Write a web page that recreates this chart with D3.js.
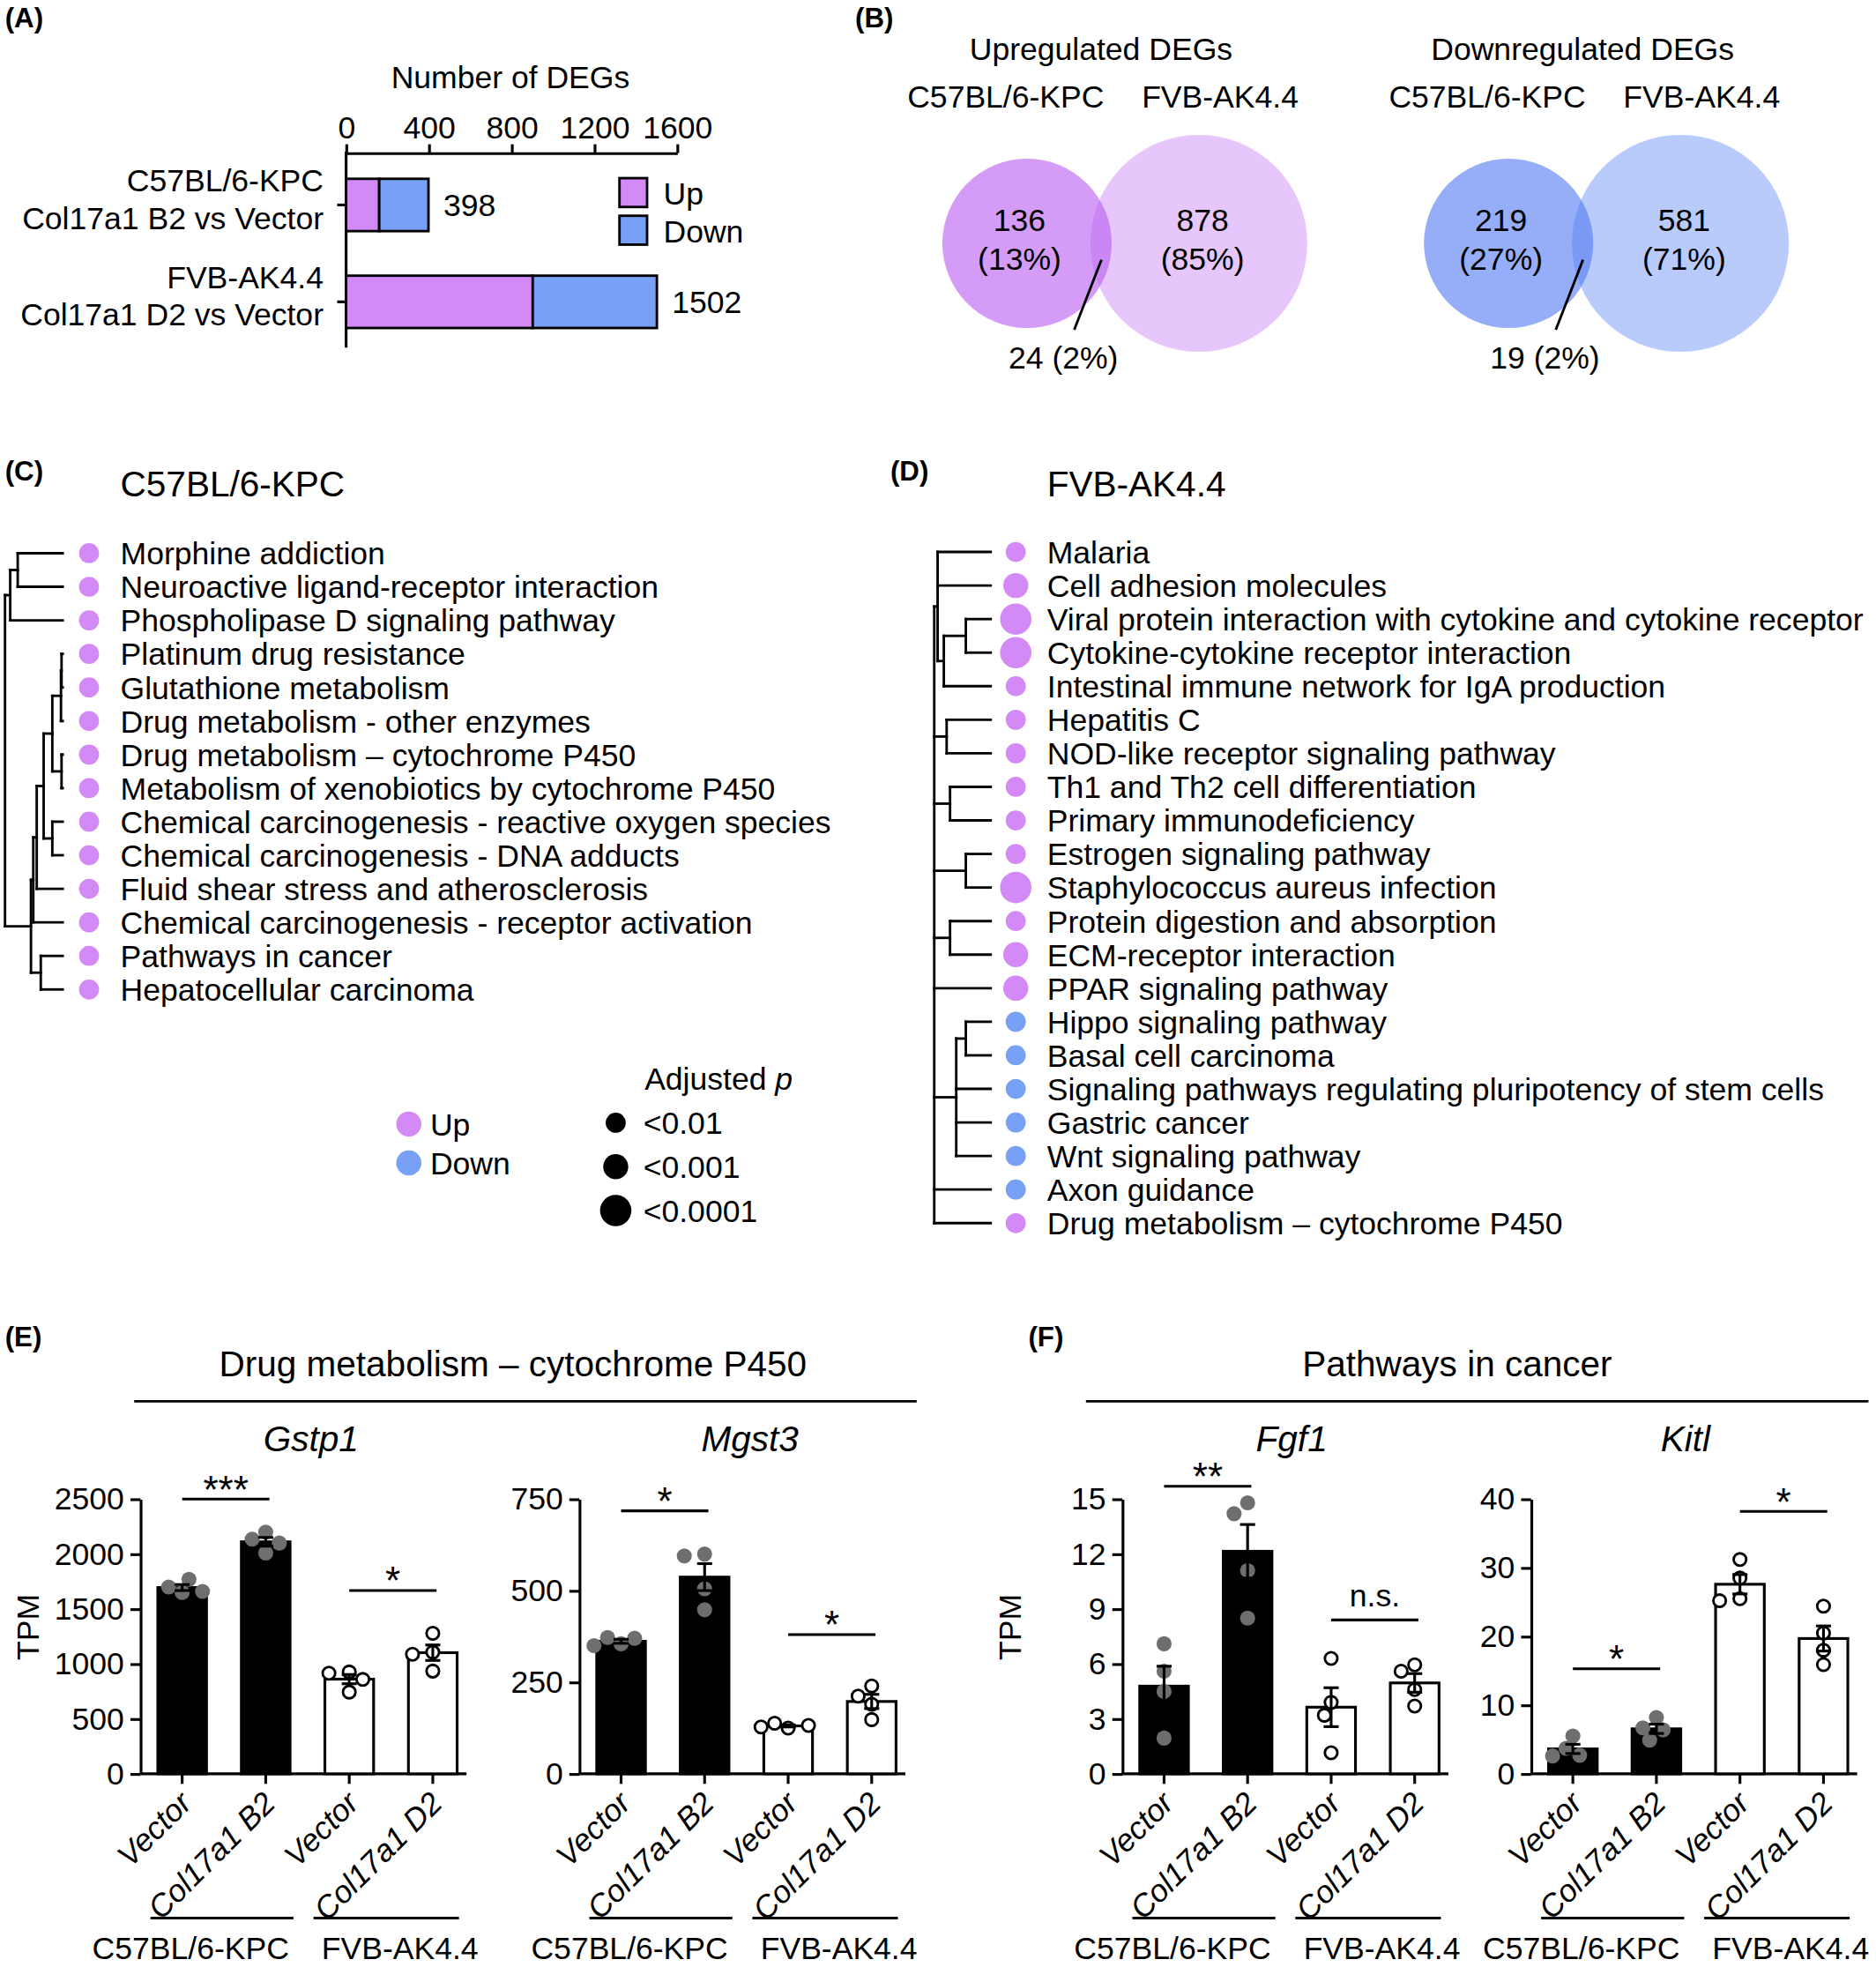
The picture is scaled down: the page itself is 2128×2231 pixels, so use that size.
<!DOCTYPE html>
<html><head><meta charset="utf-8">
<script src="https://cdn.jsdelivr.net/npm/d3@7"></script>
<style>
body{margin:0;background:#fff}
svg{display:block}
text{font-family:"Liberation Sans",Arial,Helvetica,sans-serif;fill:#000}
</style>
</head><body>
<svg id="c" width="2128" height="2231"></svg>
<script>
// ---------------- DATA ----------------
// (A) number of DEGs
const degGroups = [["C57BL/6-KPC","Col17a1 B2 vs Vector"],["FVB-AK4.4","Col17a1 D2 vs Vector"]];
const degUp = [160, 902];
const degDown = [238, 600];
const degTotal = [398, 1502];
const degTicks = [0, 400, 800, 1200, 1600];
const degLegend = ["Up", "Down"];

// (B) Venn diagrams
const vennTitles = ["Upregulated DEGs", "Downregulated DEGs"];
const vennSets = ["C57BL/6-KPC", "FVB-AK4.4"];
const vennUpCounts = [136, 24, 878];
const vennUpPct = ["13%", "2%", "85%"];
const vennDownCounts = [219, 19, 581];
const vennDownPct = ["27%", "2%", "71%"];

// (C) KEGG pathways C57BL/6-KPC
const pathC = ["Morphine addiction","Neuroactive ligand-receptor interaction","Phospholipase D signaling pathway","Platinum drug resistance","Glutathione metabolism","Drug metabolism - other enzymes","Drug metabolism \u2013 cytochrome P450","Metabolism of xenobiotics by cytochrome P450","Chemical carcinogenesis - reactive oxygen species","Chemical carcinogenesis - DNA adducts","Fluid shear stress and atherosclerosis","Chemical carcinogenesis - receptor activation","Pathways in cancer","Hepatocellular carcinoma"];
const dirC = ["Up","Up","Up","Up","Up","Up","Up","Up","Up","Up","Up","Up","Up","Up"];
const pLevelC = [1,1,1,1,1,1,1,1,1,1,1,1,1,1];
// dendrogram: [height, child, child, ...]; integers are leaf indices
const treeC = [1, [0.91, [0.78, 0, 1], 2],
  [0.55, [0.51, [0.45, [0.33, [0.18, [0.03, [0.02, 3, 4], 5], [0.02, 6, 7]], [0.18, 8, 9]], 10], 11], [0.38, 12, 13]]];

// (D) KEGG pathways FVB-AK4.4
const pathD = ["Malaria","Cell adhesion molecules","Viral protein interaction with cytokine and cytokine receptor","Cytokine-cytokine receptor interaction","Intestinal immune network for IgA production","Hepatitis C","NOD-like receptor signaling pathway","Th1 and Th2 cell differentiation","Primary immunodeficiency","Estrogen signaling pathway","Staphylococcus aureus infection","Protein digestion and absorption","ECM-receptor interaction","PPAR signaling pathway","Hippo signaling pathway","Basal cell carcinoma","Signaling pathways regulating pluripotency of stem cells","Gastric cancer","Wnt signaling pathway","Axon guidance","Drug metabolism \u2013 cytochrome P450"];
const dirD = ["Up","Up","Up","Up","Up","Up","Up","Up","Up","Up","Up","Up","Up","Up","Down","Down","Down","Down","Down","Down","Up"];
const pLevelD = [1,2,3,3,1,1,1,1,1,1,3,1,2,2,1,1,1,1,1,1,1];
const treeD = [1, [0.94, 0, 1, [0.83, [0.44, 2, 3], 4]], [0.78, 5, 6], [0.72, 7, 8], [0.44, 9, 10],
  [0.72, 11, 12], 13, [0.61, [0.44, 14, 15], 16, 17, 18], 19, 20];
const pLegend = ["<0.01", "<0.001", "<0.0001"];

// (E)(F) TPM bar charts
const tpmGroups = ["Vector", "Col17a1 B2", "Vector", "Col17a1 D2"];
const tpmLines = ["C57BL/6-KPC", "FVB-AK4.4"];
const gstp1 = [[1650,1700,1770,1660],[2200,2135,2100,2010],[927,916,859,744],[1279,1107,1088,935]];
const mgst3 = [[355,372,370,350],[600,595,505,448],[125,138,132,128],[240,212,190,148]];
const fgf1 = [[7.1,5.6,4.5,1.95],[14.8,14.2,11.1,8.5],[6.3,3.9,3.2,1.15],[5.95,5.6,4.6,3.7]];
const kitl = [[5.5,3.7,2.7,2.6],[8.2,6.7,6.4,4.9],[31.2,28.5,25.5,25.2],[24.4,20.5,18.0,15.9]];
const gstp1Ticks = [0,500,1000,1500,2000,2500];
const mgst3Ticks = [0,250,500,750];
const fgf1Ticks = [0,3,6,9,12,15];
const kitlTicks = [0,10,20,30,40];
const sigPairs = [[0,1],[2,3]];
const gstp1Sig = ["***","*"], gstp1SigAt = [2500, 1668];
const mgst3Sig = ["*","*"], mgst3SigAt = [718, 380];
const fgf1Sig = ["**","n.s."], fgf1SigAt = [15.7, 8.4];
const kitlSig = ["*","*"], kitlSigAt = [15.3, 38.2];

// ---------------- DRAWING ----------------
const W = 1496, H = 1568, FS = 25, FT = 28.5;
const UP = "#d38af7", DOWN = "#78a1f6";
const svg = d3.select("#c");
const root = svg.append("g").attr("transform", `scale(${2128/W},${2231/H})`);
const fmt = d3.format("d");

function txt(g, x, y, s, o = {}) {
  const t = g.append("text").attr("x", x).attr("y", y).attr("font-size", o.fs || FS).text(s);
  if (o.anchor) t.attr("text-anchor", o.anchor);
  if (o.weight) t.attr("font-weight", o.weight);
  if (o.italic) t.attr("font-style", "italic");
  if (o.dy) t.attr("dy", o.dy);
  return t;
}
function line(g, x1, y1, x2, y2, w = 2.2) {
  return g.append("line").attr("x1", x1).attr("y1", y1).attr("x2", x2).attr("y2", y2)
    .attr("stroke", "#000").attr("stroke-width", w).attr("stroke-linecap", "square");
}

// panel letters
[["(A)",4,22],["(B)",682,22],["(C)",4,383],["(D)",710,383],["(E)",4,1073],["(F)",820,1073]]
  .forEach(([s,x,y]) => txt(root, x, y, s, {fs: 22, weight: "bold"}));

// ---------- (A) ----------
(function(){
  const g = root.append("g");
  const x = d3.scaleLinear([0, 1600], [276, 540]);
  const y = d3.scaleBand().domain(d3.range(degUp.length)).range([124, 280]).paddingInner(0.46).paddingOuter(0.24);
  txt(g, 407, 70, "Number of DEGs", {anchor: "middle"});
  const ax = g.append("g").attr("transform", "translate(0,122)")
    .call(d3.axisTop(x).tickValues(degTicks).tickFormat(fmt).tickSize(7).tickSizeOuter(0).tickPadding(5));
  ax.selectAll("text").attr("font-size", FS).attr("font-family", null);
  ax.selectAll("line,path").attr("stroke", "#000").attr("stroke-width", 2.2);
  line(g, 276, 122, 276, 276);
  degUp.forEach((u, i) => {
    const cy = y(i) + y.bandwidth()/2;
    line(g, 270, cy, 276, cy);
    g.append("rect").attr("x", x(0)).attr("y", y(i)).attr("width", x(u) - x(0)).attr("height", y.bandwidth())
      .attr("fill", UP).attr("stroke", "#000").attr("stroke-width", 2);
    g.append("rect").attr("x", x(u)).attr("y", y(i)).attr("width", x(u + degDown[i]) - x(u)).attr("height", y.bandwidth())
      .attr("fill", DOWN).attr("stroke", "#000").attr("stroke-width", 2);
    txt(g, x(degTotal[i]) + 12, cy, degTotal[i], {dy: "0.36em"});
    txt(g, 258, cy - 11, degGroups[i][0], {anchor: "end"});
    txt(g, 258, cy + 19, degGroups[i][1], {anchor: "end"});
  });
  degLegend.forEach((s, i) => {
    g.append("rect").attr("x", 494).attr("y", 142 + i*30).attr("width", 22).attr("height", 23)
      .attr("fill", i ? DOWN : UP).attr("stroke", "#000").attr("stroke-width", 2);
    txt(g, 529, 154 + i*30, s, {dy: "0.36em"});
  });
})();

// ---------- (B) ----------
function venn(cxL, title, counts, pct, cRight, cLeft) {
  const g = root.append("g");
  const cy = 194;
  txt(g, cxL + 59, 48, title, {anchor: "middle"});
  txt(g, cxL - 17, 86, vennSets[0], {anchor: "middle"});
  txt(g, cxL + 154, 86, vennSets[1], {anchor: "middle"});
  g.append("circle").attr("cx", cxL + 137).attr("cy", cy).attr("r", 86.5).attr("fill", cRight);
  g.append("circle").attr("cx", cxL).attr("cy", cy).attr("r", 67.5).attr("fill", cLeft);
  txt(g, cxL - 6, 184, counts[0], {anchor: "middle"});
  txt(g, cxL - 6, 215, `(${pct[0]})`, {anchor: "middle"});
  txt(g, cxL + 140, 184, counts[2], {anchor: "middle"});
  txt(g, cxL + 140, 215, `(${pct[2]})`, {anchor: "middle"});
  line(g, cxL + 59, 208, cxL + 38, 262, 2);
  txt(g, cxL + 29, 294, `${counts[1]} (${pct[1]})`, {anchor: "middle"});
}
venn(819, vennTitles[0], vennUpCounts, vennUpPct, "#e7c7fb", "rgba(183,90,240,0.6)");
venn(1203, vennTitles[1], vennDownCounts, vennDownPct, "#b9cbfa", "rgba(80,120,242,0.6)");

// ---------- dendrogram helper ----------
function drawTree(g, tree, yOf, xOf) {
  function rec(node) {
    if (typeof node === "number") return {x: xOf(0), y: yOf(node)};
    const kids = node.slice(1).map(rec);
    const x = xOf(node[0]);
    const ys = kids.map(k => k.y);
    line(g, x, d3.min(ys), x, d3.max(ys), 2);
    kids.forEach(k => line(g, x, k.y, k.x, k.y, 2));
    return {x, y: (ys[0] + ys[ys.length - 1]) / 2};
  }
  rec(tree);
}
const rScale = d3.scaleOrdinal([1, 2, 3], [8, 10, 12.5]);
const colScale = d3.scaleOrdinal(["Up", "Down"], [UP, DOWN]);

function pathwayPanel(title, names, dirs, levels, tree, x0, yTop, xLeaf, xRoot, titleX) {
  const g = root.append("g");
  txt(g, titleX, 396, title, {fs: FT});
  const y = d3.scalePoint().domain(d3.range(names.length)).range([yTop, yTop + (names.length - 1) * 26.75]);
  drawTree(g, tree, y, d3.scaleLinear([0, 1], [xLeaf, xRoot]));
  names.forEach((n, i) => {
    g.append("circle").attr("cx", x0).attr("cy", y(i)).attr("r", rScale(levels[i])).attr("fill", colScale(dirs[i]));
    txt(g, x0 + 25, y(i), n, {dy: "0.36em"});
  });
}
pathwayPanel("C57BL/6-KPC", pathC, dirC, pLevelC, treeC, 71, 441, 50, 4, 96);
pathwayPanel("FVB-AK4.4", pathD, dirD, pLevelD, treeD, 810, 440, 790, 745, 835);

// legend
(function(){
  const g = root.append("g");
  ["Up", "Down"].forEach((s, i) => {
    g.append("circle").attr("cx", 326).attr("cy", 896 + i*31).attr("r", 10).attr("fill", colScale(s));
    txt(g, 343, 896 + i*31, s, {dy: "0.36em"});
  });
  const t = txt(g, 514, 869, "Adjusted ");
  t.append("tspan").attr("font-style", "italic").text("p");
  pLegend.forEach((s, i) => {
    g.append("circle").attr("cx", 491).attr("cy", 895 + i*35).attr("r", rScale(i + 1)).attr("fill", "#000");
    txt(g, 513, 895 + i*35, s, {dy: "0.36em"});
  });
})();

// ---------- (E)(F) ----------
function swarm(vals, y, cx, r) {
  const placed = [];
  return vals.map(v => {
    const py = y(v);
    let off = 0;
    for (let k = 0; k < 30; k++) {
      const c = k === 0 ? 0 : (k % 2 ? -1 : 1) * Math.ceil(k / 2) * r * 0.9;
      if (placed.every(p => Math.hypot(p.x - (cx + c), p.y - py) >= 2 * r * 0.92)) { off = c; break; }
    }
    const p = {x: cx + off, y: py};
    placed.push(p);
    return p;
  });
}

function barChart(x0, titleX, gene, data, ticks, sig, sigAt, showTPM) {
  const g = root.append("g");
  const yTop = 1195, yBot = 1414;
  const x = d3.scaleBand().domain(d3.range(data.length)).range([x0, x0 + 260])
    .paddingInner(0.417).paddingOuter(0.16).align(0.65);
  const y = d3.scaleLinear([0, d3.max(ticks)], [yBot, yTop]);
  txt(g, titleX, 1157, gene, {anchor: "middle", italic: true, fs: FT});
  if (showTPM) txt(g, 0, 0, "TPM", {anchor: "middle"})
    .attr("transform", `translate(${x0 - 81},1297) rotate(-90)`);
  const ya = g.append("g").attr("transform", `translate(${x0},0)`)
    .call(d3.axisLeft(y).tickValues(ticks).tickFormat(fmt).tickSize(8).tickSizeOuter(0).tickPadding(5));
  ya.selectAll("text").attr("font-size", FS).attr("font-family", null);
  ya.selectAll("line,path").attr("stroke", "#000").attr("stroke-width", 2.2);
  const xa = g.append("g").attr("transform", `translate(0,${yBot})`)
    .call(d3.axisBottom(x).tickSize(8).tickSizeOuter(0).tickFormat(""));
  xa.select(".domain").attr("d", `M${x0},0H${x0 + 260}`);
  xa.selectAll("line,path").attr("stroke", "#000").attr("stroke-width", 2.2);

  const bw = x.bandwidth(), r = 6;
  data.forEach((vals, i) => {
    const kpc = i < 2;
    const m = d3.mean(vals), se = d3.deviation(vals) / Math.sqrt(vals.length);
    const cx = x(i) + bw / 2;
    g.append("rect").attr("x", x(i)).attr("y", y(m)).attr("width", bw).attr("height", yBot - y(m))
      .attr("fill", kpc ? "#000" : "#fff").attr("stroke", "#000").attr("stroke-width", 2.2);
    swarm(vals, y, cx, r).forEach(p => {
      g.append("circle").attr("cx", p.x).attr("cy", p.y).attr("r", kpc ? r : r - 1)
        .attr("fill", kpc ? "#6e6e6e" : "#fff").attr("stroke", kpc ? "none" : "#000").attr("stroke-width", 2);
    });
    line(g, cx, y(m - se), cx, y(m + se), 2.2).attr("stroke-linecap", "butt");
    line(g, cx - 6, y(m + se), cx + 6, y(m + se), 2.2).attr("stroke-linecap", "butt");
    line(g, cx - 6, y(m - se), cx + 6, y(m - se), 2.2).attr("stroke-linecap", "butt");
    txt(g, 0, 0, tpmGroups[i], {anchor: "end", italic: true})
      .attr("transform", `translate(${cx + 9},${yBot + 25}) rotate(-45)`);
  });
  sigPairs.forEach(([a, b], k) => {
    const ly = y(sigAt[k]);
    const xa1 = x(a) + bw / 2, xb1 = x(b) + bw / 2 + 3;
    line(g, xa1, ly, xb1, ly, 2.2).attr("stroke-linecap", "butt");
    const ns = sig[k] === "n.s.";
    txt(g, (xa1 + xb1) / 2, ly + (ns ? -11 : 3), sig[k], {anchor: "middle", fs: ns ? FS : 31});
  });
  // strain group lines
  line(g, x0 + 8, 1529, x0 + 122, 1529, 2).attr("stroke-linecap", "butt");
  line(g, x0 + 138, 1529, x0 + 254, 1529, 2).attr("stroke-linecap", "butt");
  txt(g, x0 + 40, 1562, tpmLines[0], {anchor: "middle"});
  txt(g, x0 + 207, 1562, tpmLines[1], {anchor: "middle"});
}

// section titles
txt(root, 409, 1097, "Drug metabolism \u2013 cytochrome P450", {anchor: "middle", fs: FT});
line(root, 107, 1117, 731, 1117, 2).attr("stroke-linecap", "butt");
txt(root, 1162, 1097, "Pathways in cancer", {anchor: "middle", fs: FT});
line(root, 866, 1117, 1490, 1117, 2).attr("stroke-linecap", "butt");

barChart(112, 248, "Gstp1", gstp1, gstp1Ticks, gstp1Sig, gstp1SigAt, true);
barChart(462, 598, "Mgst3", mgst3, mgst3Ticks, mgst3Sig, mgst3SigAt, false);
barChart(895, 1030, "Fgf1", fgf1, fgf1Ticks, fgf1Sig, fgf1SigAt, true);
barChart(1221, 1344, "Kitl", kitl, kitlTicks, kitlSig, kitlSigAt, false);
</script>
</body></html>
